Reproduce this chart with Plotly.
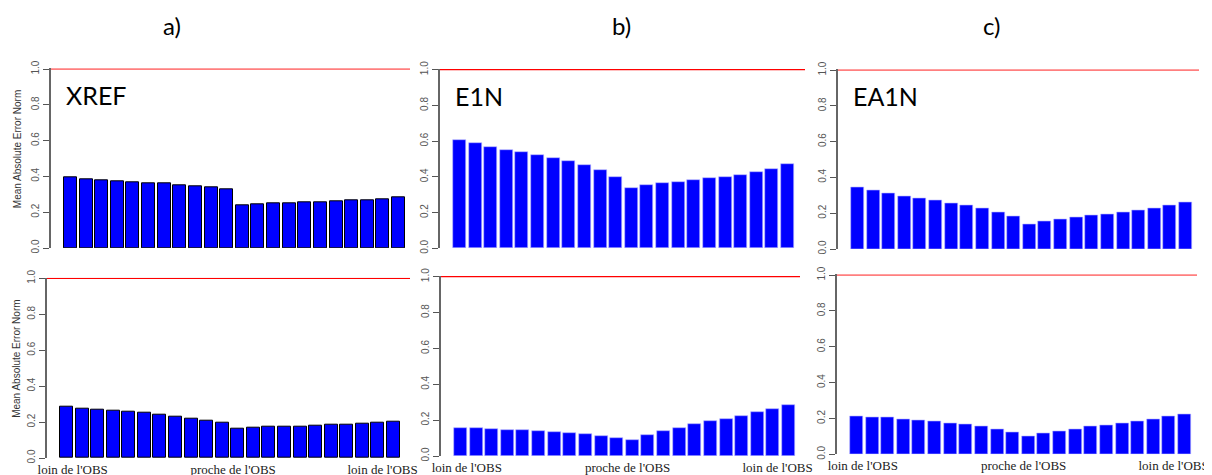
import plotly.graph_objects as go
from plotly.subplots import make_subplots

# distance classes: far from obs -> near obs -> far from obs (22 bars)
xref_top = [0.395, 0.385, 0.378, 0.373, 0.367, 0.362, 0.360, 0.352, 0.345, 0.337, 0.327,
            0.240, 0.242, 0.247, 0.252, 0.254, 0.257, 0.261, 0.265, 0.269, 0.274, 0.285]
e1n_top = [0.605, 0.588, 0.568, 0.553, 0.538, 0.522, 0.505, 0.488, 0.466, 0.438, 0.397,
           0.337, 0.352, 0.365, 0.372, 0.381, 0.391, 0.400, 0.412, 0.427, 0.442, 0.470]
ea1n_top = [0.342, 0.328, 0.312, 0.296, 0.282, 0.270, 0.258, 0.245, 0.228, 0.207, 0.180,
            0.140, 0.153, 0.165, 0.177, 0.187, 0.194, 0.204, 0.214, 0.228, 0.242, 0.260]
xref_bot = [0.288, 0.275, 0.270, 0.262, 0.256, 0.250, 0.243, 0.230, 0.221, 0.209, 0.194,
            0.165, 0.170, 0.172, 0.175, 0.177, 0.179, 0.183, 0.186, 0.191, 0.196, 0.203]
e1n_bot = [0.157, 0.154, 0.150, 0.147, 0.145, 0.140, 0.135, 0.130, 0.123, 0.113, 0.098,
           0.088, 0.118, 0.142, 0.157, 0.177, 0.195, 0.208, 0.225, 0.243, 0.263, 0.285]
ea1n_bot = [0.214, 0.209, 0.205, 0.197, 0.190, 0.185, 0.175, 0.168, 0.157, 0.142, 0.125,
            0.100, 0.118, 0.130, 0.142, 0.154, 0.163, 0.175, 0.186, 0.198, 0.210, 0.224]

experiments = ["XREF", "E1N", "EA1N"]
panel_titles = ["a)", "b)", "c)"]
y_ticks = [0.0, 0.2, 0.4, 0.6, 0.8, 1.0]
x_ticktext = ["loin de l'OBS", "proche de l'OBS", "loin de l'OBS"]
x_tickpos = [0.4, 10.7, 20.3]
ref_level = 1.0
ytitle = "Mean Absolute Error Norm"

data = [[xref_top, e1n_top, ea1n_top], [xref_bot, e1n_bot, ea1n_bot]]

# the page body adds an 8px margin, so the figure is drawn 8px smaller and
# all the pixel positions below (taken in window coordinates) are shifted
OFF = 8
W, H = 1212 - OFF, 475 - OFF


def px(x):
    return (x - OFF) / W


def py(y):
    return 1 - (y - OFF) / H


# pixel boxes: axis x, first bar left, last bar right, line end, y(1.0), y(0.0)
boxes = [
    [(51, 64, 405, 410, 68.3, 248), (440, 453, 794, 805, 69, 248.3), (838, 851, 1192, 1199, 69.3, 249)],
    [(47, 60, 400, 410, 277.7, 458), (441, 454, 795, 800, 276, 456), (837, 850, 1191, 1197, 274.3, 454.3)],
]
title_x = [172, 621, 991]

fig = make_subplots(rows=2, cols=3)

tick_font = dict(family="Liberation Sans, Arial", size=10, color="#555555")
n = len(xref_top)
bw = 1 / 1.2

for r in range(2):
    for c in range(3):
        vals = data[r][c]
        ax, bl, br, lend, y1, y0 = boxes[r][c]
        s = (br - bl) / (n - 1 + bw)
        c0 = bl + bw / 2 * s
        xr = [-(c0 - ax) / s, (n - 1) + (lend - (c0 + (n - 1) * s)) / s]
        outline = dict(color="black", width=1) if c == 0 else dict(color="#b8b8ff", width=0.6)
        fig.add_trace(
            go.Bar(x=list(range(n)), y=vals, width=bw, marker=dict(color="#0000ff", line=outline),
                   showlegend=False),
            row=r + 1, col=c + 1,
        )
        fig.update_xaxes(
            domain=[px(ax), px(lend)], range=xr, showline=False, showgrid=False, zeroline=False,
            automargin=False,
            tickmode="array", tickvals=x_tickpos if r == 1 else [],
            ticktext=x_ticktext if r == 1 else [], ticks="", ticklabelstandoff=2,
            tickfont=dict(family="Liberation Serif, Times New Roman", size=13, color="#222222"),
            row=r + 1, col=c + 1,
        )
        fig.update_yaxes(
            domain=[py(y0), py(y1)], range=[0, 1.004], showgrid=False, zeroline=False,
            automargin=False,
            showline=True, linecolor="#666666", linewidth=1.5,
            tickmode="array", tickvals=y_ticks, ticktext=[f"{v:.1f}" for v in y_ticks],
            ticks="outside", ticklen=6, tickcolor="#555555", tickangle=-90, tickfont=tick_font,
            row=r + 1, col=c + 1,
        )
        k = r * 3 + c + 1
        xa = "x" if k == 1 else f"x{k}"
        ya = "y" if k == 1 else f"y{k}"
        fig.add_shape(type="line", xref=f"{xa} domain", yref=ya, x0=0, x1=1, y0=ref_level,
                      y1=ref_level, line=dict(color="red", width=1.2))
        if r == 0:
            fig.add_annotation(text=experiments[c], xref=f"{xa} domain", yref=f"{ya} domain",
                               x=0.035, y=0.85, xanchor="left", yanchor="middle", showarrow=False,
                               font=dict(family="Lato, Open Sans", size=25, color="black"))
        if c == 0:
            fig.add_annotation(text=ytitle, xref="paper", yref=f"{ya} domain", x=px(17), y=0.55,
                               textangle=-90, showarrow=False, xanchor="center", yanchor="middle",
                               font=dict(family="Liberation Sans, Arial", size=10, color="#333333"))

for c, t in enumerate(panel_titles):
    fig.add_annotation(text=t, xref="paper", yref="paper", x=px(title_x[c]), y=py(26),
                       showarrow=False, xanchor="center", yanchor="middle",
                       font=dict(family="Lato, Open Sans", size=24, color="black"))

fig.update_layout(
    width=W, height=H, margin=dict(l=0, r=0, t=0, b=0),
    plot_bgcolor="white", paper_bgcolor="white", bargap=0,
)

fig.write_html("out.html")
